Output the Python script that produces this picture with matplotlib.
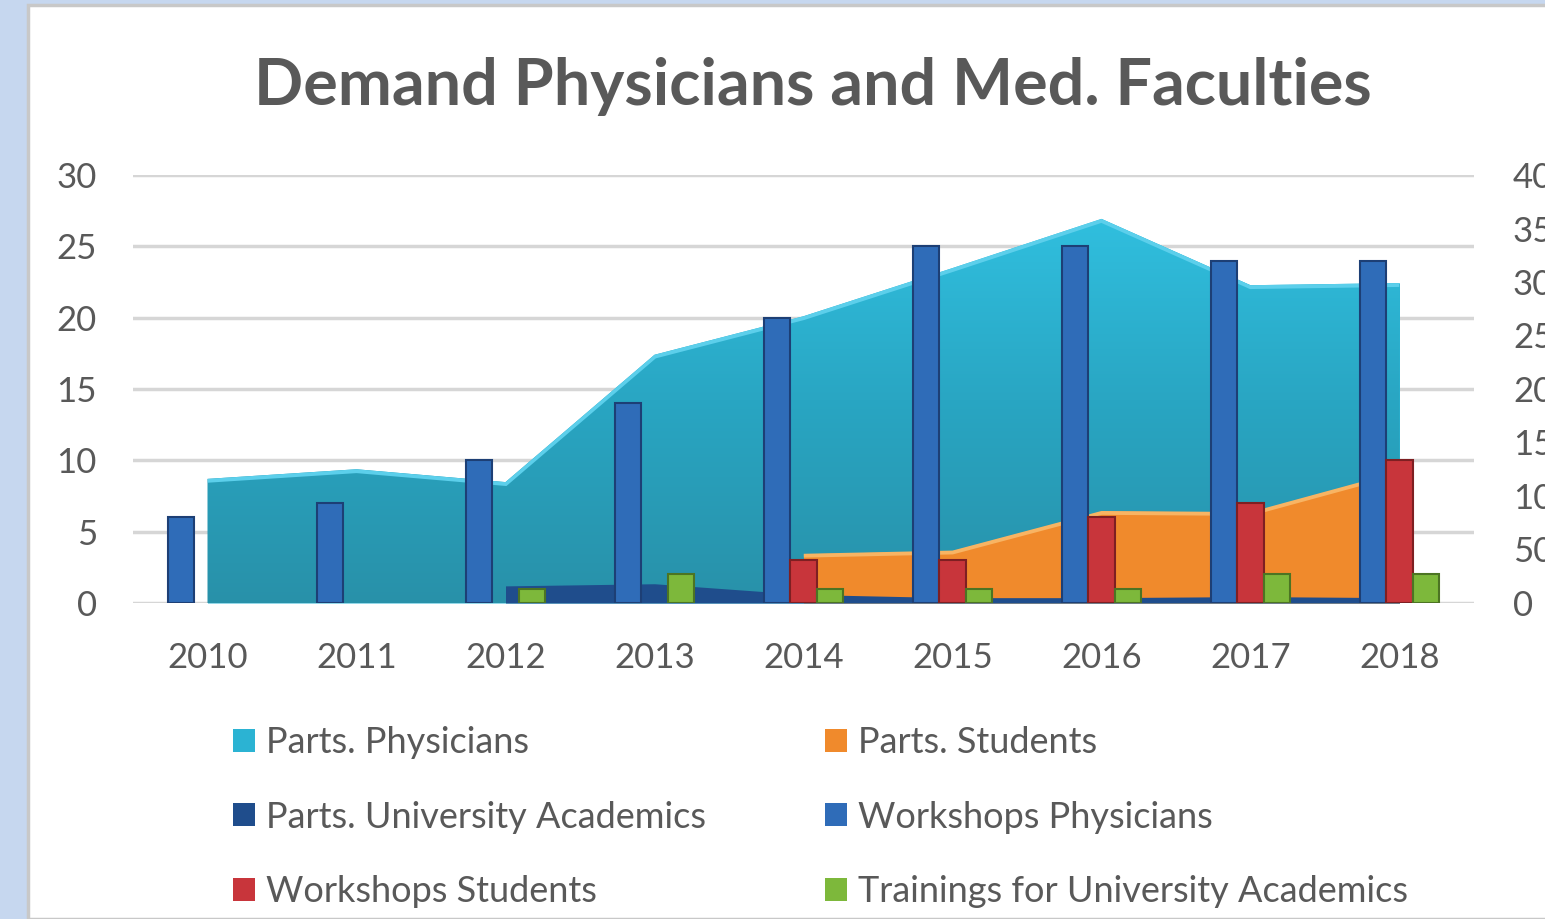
import numpy as np
import matplotlib
matplotlib.use("Agg")
import matplotlib.pyplot as plt
from matplotlib.patches import Patch, Rectangle
from matplotlib.colors import LinearSegmentedColormap

plt.rcParams['font.family'] = ['Lato', 'DejaVu Sans']

years = ['2010', '2011', '2012', '2013', '2014', '2015', '2016', '2017', '2018']
nan = np.nan
# right axis (areas)
parts_physicians = [116, 125, 113, 232, 268, 313, 359, 297, 299]
parts_students = [nan, nan, nan, nan, 46, 49, 86, 85, 123]
parts_univ_academics = [nan, nan, 16, 18, 8, 5, 5, 6, 5]
# left axis (bars)
workshops_physicians = [6, 7, 10, 14, 20, 25, 25, 24, 24]
workshops_students = [nan, nan, nan, nan, 3, 3, 6, 7, 10]
trainings_univ_academics = [nan, nan, 1, 2, 1, 1, 1, 2, 2]

left_ticks = [0, 5, 10, 15, 20, 25, 30]
right_ticks = [0, 50, 100, 150, 200, 250, 300, 350, 400]

TXT = '#595959'
C_CYAN = '#2bb3d3'
C_ORANGE = '#f08a2c'
C_DBLUE = '#1f4d8c'
C_BLUE = '#2f6cb8'
C_RED = '#c8353b'
C_GREEN = '#7db83b'

W, H = 1545, 919
fig = plt.figure(figsize=(W / 100, H / 100), dpi=100)
fig.patch.set_facecolor('#c6d7ef')
fig.patches.append(Rectangle((28 / W, 0), 1.0, 1 - 5 / H, transform=fig.transFigure,
                             facecolor='white', edgecolor='#c8c8c8', linewidth=2.5, zorder=-10))

pos = [133 / W, 1 - 603 / H, (1474 - 133) / W, (603 - 175) / H]
ax_grid = fig.add_axes(pos)
ax_area = ax_grid.twinx()
ax_bar = ax_grid.twinx()

x = np.arange(len(years))

# grid axis (left labels)
ax_grid.set_xlim(-0.5, len(years) - 0.5)
ax_grid.set_ylim(0, 30)
ax_grid.set_yticks(left_ticks)
ax_grid.set_xticks(x)
ax_grid.set_xticklabels(years)
ax_grid.yaxis.grid(True, color='#d6d6d6', linewidth=2.5)
ax_grid.set_axisbelow(True)
ax_grid.tick_params(axis='both', length=0, labelsize=25, colors=TXT)
ax_grid.tick_params(axis='y', pad=26)
ax_grid.tick_params(axis='x', pad=28)
ax_grid.set_facecolor('white')
for s in ax_grid.spines.values():
    s.set_visible(False)

# area axis (right labels)
ax_area.set_ylim(0, 400)
ax_area.set_yticks(right_ticks)
ax_area.tick_params(axis='y', length=0, labelsize=25, colors=TXT, pad=28)
for s in ax_area.spines.values():
    s.set_visible(False)

pp = np.array(parts_physicians, dtype=float)
ps = np.array(parts_students, dtype=float)
pu = np.array(parts_univ_academics, dtype=float)

poly = ax_area.fill_between(x, 0, pp, color=C_CYAN, linewidth=0, zorder=2)
cmap = LinearSegmentedColormap.from_list('cy', ['#2891a9', '#29a6c3', '#31c2e2'])
grad = np.linspace(0, 1, 256).reshape(-1, 1)
im = ax_area.imshow(grad, extent=(-0.5, len(years) - 0.5, 0, 380), origin='lower',
                    aspect='auto', cmap=cmap, zorder=2.1)
im.set_clip_path(poly.get_paths()[0], transform=ax_area.transData)
top_line, = ax_area.plot(x, pp - 1, color='#5ccfeb', linewidth=4, zorder=2.2,
                         solid_joinstyle='miter', solid_capstyle='butt')
top_line.set_clip_path(poly.get_paths()[0], transform=ax_area.transData)

poly_s = ax_area.fill_between(x, 0, ps, color=C_ORANGE, linewidth=0, zorder=3)
s_line, = ax_area.plot(x, ps - 1, color='#f8b463', linewidth=4, zorder=3.1, solid_capstyle='butt')
s_line.set_clip_path(poly_s.get_paths()[0], transform=ax_area.transData)
ax_area.fill_between(x, 0, pu, color=C_DBLUE, linewidth=0, zorder=4)
ax_area.set_xlim(-0.5, len(years) - 0.5)

# bar axis (left scale, no labels)
bw = 0.178
ax_bar.set_ylim(0, 30)
ax_bar.set_yticks([])
for s in ax_bar.spines.values():
    s.set_visible(False)
ax_bar.bar(x - bw, workshops_physicians, bw, color=C_BLUE, edgecolor='#1d3f75', linewidth=1.5, zorder=5)
ax_bar.bar(x, workshops_students, bw, color=C_RED, edgecolor='#7e1f22', linewidth=1.5, zorder=5)
ax_bar.bar(x + bw, trainings_univ_academics, bw, color=C_GREEN, edgecolor='#4c7423', linewidth=1.5, zorder=5)
ax_bar.set_xlim(-0.5, len(years) - 0.5)

fig.text(813 / W, 1 - 86 / H, 'Demand Physicians and Med. Faculties', ha='center', va='center',
         fontsize=46.5, fontweight='bold', color=TXT)

labels = ['Parts. Physicians', 'Parts. University Academics', 'Workshops Students',
          'Parts. Students', 'Workshops Physicians', 'Trainings for University Academics']
colors = [C_CYAN, C_DBLUE, C_RED, C_ORANGE, C_BLUE, C_GREEN]
handles = [Patch(facecolor=c, edgecolor='none') for c in colors]
leg = fig.legend(handles, labels, ncol=2, loc='upper left', bbox_to_anchor=(233 / W, 1 - 726 / H),
                 frameon=False, fontsize=26, labelcolor=TXT, handlelength=0.6, handleheight=0.6,
                 handletextpad=0.3, columnspacing=3.32, labelspacing=1.15, borderaxespad=0, borderpad=0)

fig.savefig('out.png', dpi=100)
